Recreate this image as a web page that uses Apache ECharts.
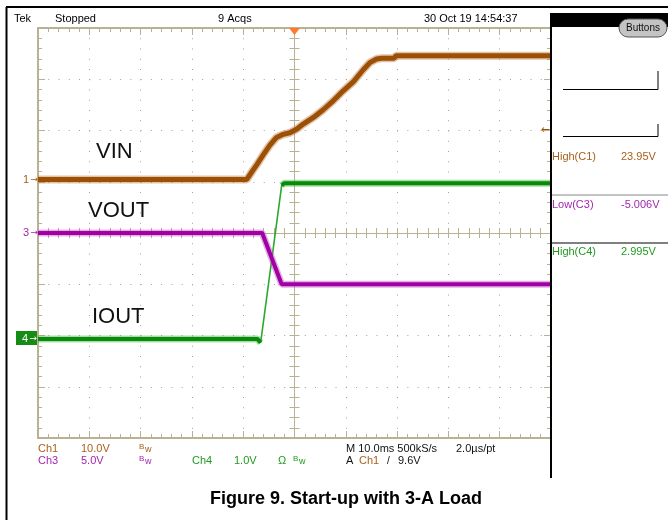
<!DOCTYPE html>
<html>
<head>
<meta charset="utf-8">
<script src="https://cdn.jsdelivr.net/npm/echarts@6/dist/echarts.min.js"></script>
<style>
html, body { margin: 0; padding: 0; background: #fff; }
#scope { width: 668px; height: 520px; }
</style>
</head>
<body>
<div id="scope"></div>
<script>
// time in ms, trigger at 0 (10 ms/div, 10 div)
var timeMin = -50, timeMax = 50, timeDiv = 10;

// Ch1 VIN (V)
var vinTime  = [-50, -9.3, -8.3, -7.4, -6.1, -4.8, -3.5, -2.2, -0.9, 0.4, 1.7, 3.7, 5.6, 7.6, 9.5, 11.5, 13.4, 14.7, 16.0, 17.0, 19.4, 19.8, 50];
var vinVolts = [0, 0, 1.5, 2.8, 4.8, 6.7, 8.2, 8.8, 9.1, 9.8, 10.8, 12.1, 13.6, 15.4, 17.3, 19.1, 21.4, 22.8, 23.5, 23.65, 23.65, 24.15, 24.15];

// Ch3 VOUT (V)
var voutTime  = [-50, -6.3, -2.5, 50];
var voutVolts = [0, 0, -5.0, -5.0];

// Ch4 IOUT (A, 1 V = 1 A)
var ioutTime = [-50, -7.2, -6.6, -2.5, -2.0, 50];
var ioutAmps = [0, 0, -0.07, 3.0, 3.04, 3.04];

// scope readouts
var measNames  = ['High(C1)', 'Low(C3)', 'High(C4)'];
var measValues = ['23.95V', '-5.006V', '2.995V'];

// channel volts/div and position (div)
var chScale = [10, 5, 1];
var chPos = [1.045, 0, -2.07];

var brown = '#9c5006', purple = '#a000a4', green = '#0a8a0a';
var brownTxt = '#a8601c', purpleTxt = '#a326b0', greenTxt = '#1f9a1f';
var tan = '#bab193', dots = '#aaa18a';
var font = '"Liberation Sans", "DejaVu Sans", sans-serif';
var arrowFont = '"DejaVu Sans", sans-serif';

function pairs(t, v) {
  return t.map(function (x, i) { return [x, v[i]]; });
}

var ioutThick = pairs(ioutTime, ioutAmps);
ioutThick.splice(3, 0, [ioutTime[2], '-']);

function frameAxis(pos, extra) {
  var a = {
    type: 'value', position: pos,
    axisLine: { onZero: false, lineStyle: { color: tan, width: 2 } },
    axisTick: { inside: true, length: 7, lineStyle: { color: tan } },
    minorTick: { show: true, splitNumber: 5, length: 4, lineStyle: { color: tan } },
    axisLabel: { show: false },
    splitLine: { show: false }
  };
  return Object.assign(a, extra);
}

function centerAxis(pos, inside, extra) {
  var a = {
    type: 'value', position: pos,
    axisLine: { onZero: true, onZeroAxisIndex: 0, lineStyle: { color: tan, width: 1 } },
    axisTick: { inside: inside, length: 5, lineStyle: { color: tan } },
    minorTick: { show: true, splitNumber: 5, length: 5, lineStyle: { color: tan } },
    axisLabel: { show: false },
    splitLine: { show: false }
  };
  return Object.assign(a, extra);
}

function chAxis(i) {
  return {
    type: 'value', show: false,
    min: (-4 - chPos[i]) * chScale[i],
    max: (4 - chPos[i]) * chScale[i],
    axisLine: { onZero: false },
    splitLine: { show: false }
  };
}

var xr = { min: timeMin, max: timeMax, interval: timeDiv };
var yr = { min: -4, max: 4, interval: 1 };

function txt(x, y, s, color, size, extra, fam) {
  var e = {
    type: 'text', x: x, y: y, silent: true, z: 30,
    style: { text: s, fill: color, font: (size || 11) + 'px ' + (fam || font), align: 'left', verticalAlign: 'middle' }
  };
  if (extra) Object.assign(e.style, extra);
  return e;
}
function ln(x1, y1, x2, y2, color, w) {
  return { type: 'line', silent: true, z: 20, shape: { x1: x1, y1: y1, x2: x2, y2: y2 }, style: { stroke: color, lineWidth: w || 1 } };
}

var graphics = [
  ln(6, 7, 668, 7, '#000', 2),
  ln(6.5, 7, 6.5, 520, '#000', 2),
  ln(551, 13, 551, 478, '#000', 2),
  { type: 'rect', silent: true, z: 20, shape: { x: 551, y: 13, width: 117, height: 14 }, style: { fill: '#000' } },
  { type: 'rect', silent: true, z: 21, shape: { x: 619, y: 19, width: 48, height: 18, r: 9 }, style: { fill: '#c4c4c4', stroke: '#555', lineWidth: 1 } },
  txt(643, 28.5, 'Buttons', '#111', 10, { align: 'center' }),
  ln(563, 89.5, 658, 89.5, '#000', 1), ln(658, 71, 658, 89.5, '#000', 1),
  ln(563, 136.5, 658, 136.5, '#000', 1), ln(658, 124, 658, 136.5, '#000', 1),
  ln(552, 195, 668, 195, '#888', 1),
  ln(552, 243, 668, 243, '#000', 1),
  txt(14, 19, 'Tek', '#000'),
  txt(55, 19, 'Stopped', '#000'),
  txt(218, 19, '9 Acqs', '#000'),
  txt(424, 19, '30 Oct 19 14:54:37', '#000'),
  // trigger position / level
  { type: 'polygon', silent: true, z: 21, shape: { points: [[289, 28], [300, 28], [294.5, 35]] }, style: { fill: '#ff7a2a' } },
  txt(550, 130, '\u2190', brown, 11, { align: 'right' }, arrowFont),
  // channel ground markers
  txt(29, 179.5, '1', brownTxt, 11, { align: 'right' }),
  txt(38, 179.5, '\u2192', brownTxt, 9, { align: 'right' }, arrowFont),
  txt(29, 233, '3', purpleTxt, 11, { align: 'right' }),
  txt(38, 233, '\u2192', purpleTxt, 9, { align: 'right' }, arrowFont),
  { type: 'rect', silent: true, z: 20, shape: { x: 16, y: 331, width: 21, height: 14 }, style: { fill: '#168c16' } },
  txt(28, 338.5, '4', '#fff', 11, { align: 'right' }),
  txt(37, 338.5, '\u2192', '#fff', 9, { align: 'right' }, arrowFont),
  // trace labels
  txt(96, 152, 'VIN', '#111', 22),
  txt(88, 211, 'VOUT', '#111', 22),
  txt(92, 317, 'IOUT', '#111', 22),
  // bottom readout
  txt(38, 449, 'Ch1', brownTxt), txt(81, 449, '10.0V', brownTxt),
  txt(139, 447, 'B', brownTxt, 8), txt(145, 450, 'w', brownTxt, 9),
  txt(346, 449, 'M 10.0ms 500kS/s', '#111'), txt(456, 449, '2.0\u00b5s/pt', '#111'),
  txt(38, 461, 'Ch3', purpleTxt), txt(81, 461, '5.0V', purpleTxt),
  txt(139, 459, 'B', purpleTxt, 8), txt(145, 462, 'w', purpleTxt, 9),
  txt(192, 461, 'Ch4', greenTxt), txt(234, 461, '1.0V', greenTxt),
  txt(278, 461, '\u03a9', greenTxt), txt(293, 459, 'B', greenTxt, 8), txt(299, 462, 'w', greenTxt, 9),
  txt(346, 461, 'A', '#111'), txt(359, 461, 'Ch1', brownTxt), txt(387, 461, '/', '#111', 10), txt(398, 461, '9.6V', '#111')
];

var measY = [157, 205, 252];
var measColor = [brownTxt, purpleTxt, greenTxt];
measNames.forEach(function (n, i) {
  graphics.push(txt(552, measY[i], n, measColor[i]));
  graphics.push(txt(621, measY[i], measValues[i], measColor[i]));
});

function trace(name, yIdx, data, color, width, z, halo) {
  return [
    {
      name: name + ' noise', type: 'line', xAxisIndex: 0, yAxisIndex: yIdx,
      data: data, symbol: 'none', z: z, silent: true, connectNulls: false,
      lineStyle: { color: halo, width: width + 3, opacity: 0.45 }
    },
    {
      name: name, type: 'line', xAxisIndex: 0, yAxisIndex: yIdx,
      data: data, symbol: 'none', z: z + 1, connectNulls: false,
      lineStyle: { color: color, width: width }
    }
  ];
}

var series = [{
  name: 'IOUT edge', type: 'line', xAxisIndex: 0, yAxisIndex: 6,
  data: pairs(ioutTime, ioutAmps), symbol: 'none', z: 3,
  lineStyle: { color: '#2ea82e', width: 1.6 }
}].concat(
  trace('IOUT', 6, ioutThick, green, 4, 3, '#3cb43c'),
  trace('VOUT', 5, pairs(voutTime, voutVolts), purple, 4, 5, '#c050c8'),
  trace('VIN', 4, pairs(vinTime, vinVolts), brown, 5, 7, '#c0783a')
);

var chart = echarts.init(document.getElementById('scope'));
chart.setOption({
  animation: false,
  backgroundColor: '#fff',
  title: {
    text: 'Figure 9. Start-up with 3-A Load',
    left: 205, top: 485,
    textStyle: { fontFamily: font, fontSize: 18, fontWeight: 'bold', color: '#000' }
  },
  grid: { left: 38, top: 28, width: 513, height: 410 },
  xAxis: [
    frameAxis('bottom', Object.assign({ splitLine: { show: true, lineStyle: { color: dots, width: 1, type: [1, 9.25] } } }, xr)),
    frameAxis('top', Object.assign({}, xr)),
    centerAxis('bottom', true, Object.assign({}, xr)),
    centerAxis('bottom', false, Object.assign({}, xr))
  ],
  yAxis: [
    frameAxis('left', Object.assign({ splitLine: { show: true, lineStyle: { color: dots, width: 1, type: [1, 9.26] } } }, yr)),
    frameAxis('right', Object.assign({}, yr)),
    centerAxis('left', true, Object.assign({}, yr)),
    centerAxis('left', false, Object.assign({}, yr)),
    chAxis(0), chAxis(1), chAxis(2)
  ],
  series: series,
  graphic: graphics
});
</script>
</body>
</html>
